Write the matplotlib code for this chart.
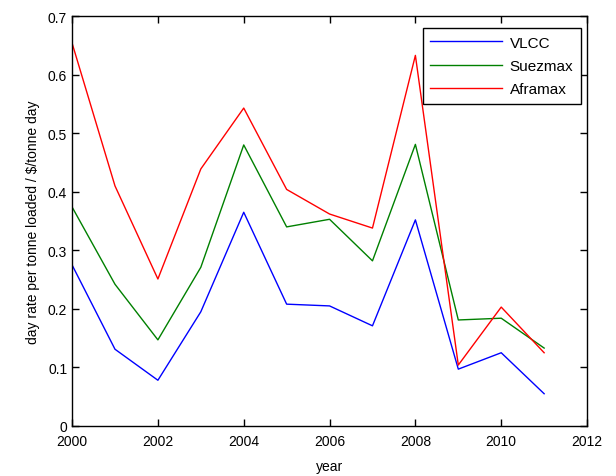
import matplotlib
matplotlib.use('Agg')
import matplotlib.pyplot as plt

years = [2000, 2001, 2002, 2003, 2004, 2005, 2006, 2007, 2008, 2009, 2010, 2011]
vlcc = [0.275, 0.131, 0.078, 0.195, 0.365, 0.208, 0.205, 0.171, 0.352, 0.097, 0.125, 0.055]
suezmax = [0.374, 0.242, 0.147, 0.271, 0.480, 0.340, 0.353, 0.282, 0.481, 0.181, 0.184, 0.133]
aframax = [0.654, 0.410, 0.251, 0.439, 0.543, 0.404, 0.362, 0.338, 0.633, 0.104, 0.203, 0.125]

plt.rcParams['font.family'] = ['Liberation Sans', 'DejaVu Sans']
plt.rcParams['font.size'] = 10

fig = plt.figure(figsize=(6.16, 4.77), dpi=100)
ax = fig.add_axes([0.117, 0.105, 0.836, 0.859])

ax.plot(years, vlcc, color='#0000ff', lw=1, label='VLCC')
ax.plot(years, suezmax, color='#008000', lw=1, label='Suezmax')
ax.plot(years, aframax, color='#ff0000', lw=1, label='Aframax')

ax.set_xlim(2000, 2012)
ax.set_ylim(0, 0.7)
ax.set_xticks(range(2000, 2013, 2))
ax.set_yticks([0, 0.1, 0.2, 0.3, 0.4, 0.5, 0.6, 0.7])
ax.set_yticklabels(['0', '0.1', '0.2', '0.3', '0.4', '0.5', '0.6', '0.7'])
ax.tick_params(direction='in', top=True, right=True, length=5, width=1, labelsize=10)
ax.tick_params(axis='x', pad=6)
for s in ax.spines.values():
    s.set_linewidth(1)

ax.set_xlabel('year', fontsize=10, labelpad=8)
ax.set_ylabel('day rate per tonne loaded / \\$/tonne day', fontsize=10, labelpad=6)

leg = ax.legend(loc='upper right', bbox_to_anchor=(0.988, 0.971), fancybox=False,
                edgecolor='black', framealpha=1, fontsize=11, handlelength=4.7,
                handletextpad=0.5, borderaxespad=0, labelspacing=0.6, borderpad=0.5)
leg.get_frame().set_linewidth(1)

fig.savefig('out.png', dpi=100)
